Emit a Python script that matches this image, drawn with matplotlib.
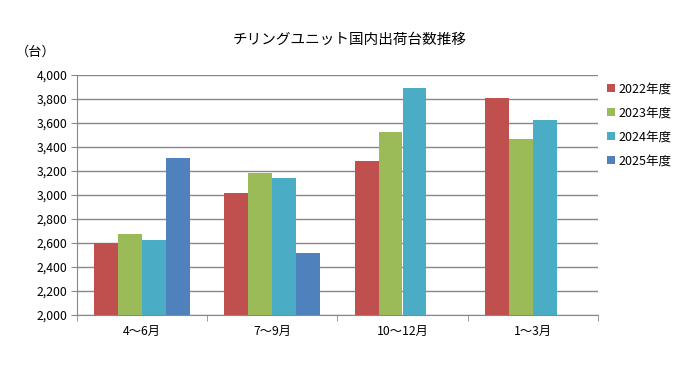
import matplotlib.pyplot as plt
import numpy as np

plt.rcParams['font.family'] = ['Noto Sans CJK JP', 'DejaVu Sans']

categories = ['4～6月', '7～9月', '10～12月', '1～3月']
series_names = ['2022年度', '2023年度', '2024年度', '2025年度']
v2022 = [2600, 3017, 3283, 3808]
v2023 = [2675, 3183, 3525, 3467]
v2024 = [2625, 3142, 3892, 3625]
v2025 = [3308, 2517, None, None]
colors = ['#C0504D', '#9BBB59', '#4BACC6', '#4F81BD']

fig = plt.figure(figsize=(7, 3.78), dpi=100)
ax = fig.add_axes([0.110, 0.1667, 0.744, 0.635])

x = np.arange(len(categories))
w = 0.184
for i, (name, vals) in enumerate(zip(series_names, [v2022, v2023, v2024, v2025])):
    xs = [xi + (i - 1.5) * w for xi, v in zip(x, vals) if v is not None]
    ys = [v for v in vals if v is not None]
    ax.bar(xs, ys, width=w, color=colors[i], label=name, zorder=3)

ax.set_ylim(2000, 4000)
ax.set_xlim(-0.5, 3.5)
ax.set_yticks(range(2000, 4001, 200))
ax.set_yticklabels([f'{v:,}' for v in range(2000, 4001, 200)], fontsize=8.8)
ax.yaxis.grid(True, color='#888888', linewidth=1, zorder=0)

ax.set_xticks(x)
ax.set_xticklabels(categories, fontsize=8.8)
ax.tick_params(axis='x', length=0, pad=7)
ax.set_xticks(np.arange(-0.5, 4, 1), minor=True)
ax.tick_params(axis='x', which='minor', length=4, color='#888888')
ax.tick_params(axis='y', length=4, color='#888888', pad=3)

for s in ['top', 'right']:
    ax.spines[s].set_visible(False)
ax.spines['left'].set_color('#888888')
ax.spines['bottom'].set_color('#888888')

fig.text(0.5, 0.895, 'チリングユニット国内出荷台数推移', ha='center', va='center', fontsize=10.5)
fig.text(0.022, 0.862, '（台）', ha='left', va='center', fontsize=9.5)

ax.legend(loc='upper left', bbox_to_anchor=(1.0, 1.005), frameon=False, fontsize=9,
          handlelength=0.65, handleheight=0.65, handletextpad=0.3, labelspacing=0.88,
          borderaxespad=0.3)

fig.savefig('out.png')
